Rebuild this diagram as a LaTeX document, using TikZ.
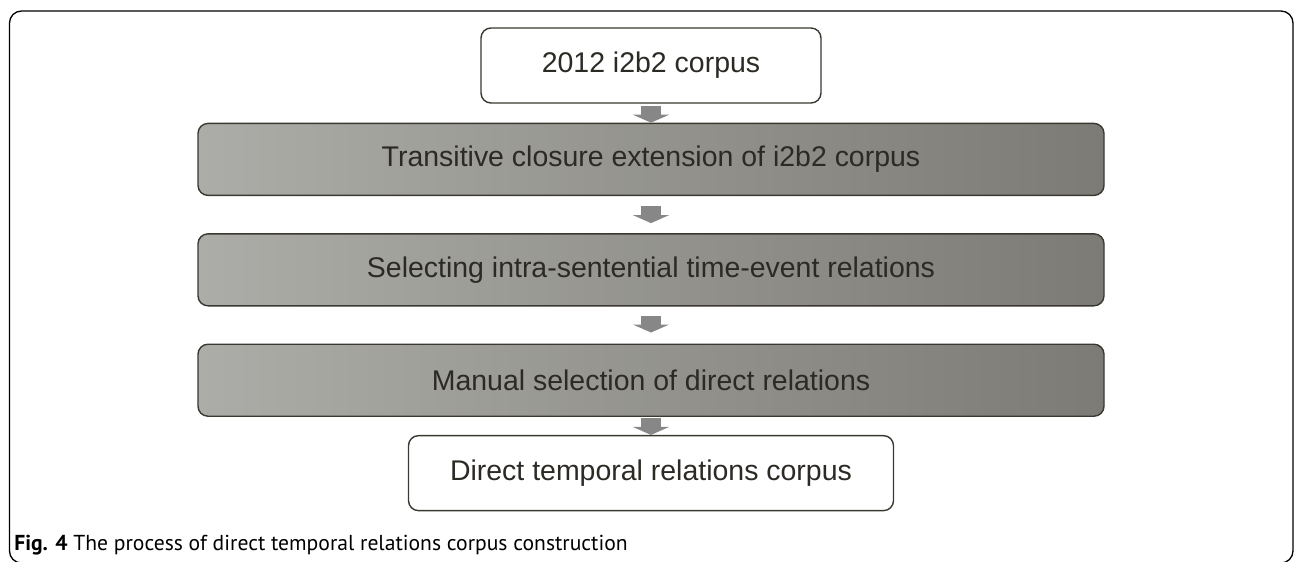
\documentclass[tikz,border=0pt]{standalone}
\usepackage{fontspec}
\setmainfont{Liberation Sans}
\newfontfamily\capfont{PT Sans}
\usepackage{xcolor}
\usepackage{tikz}
\usetikzlibrary{positioning}
\usetikzlibrary{arrows.meta}
\tikzset{>=stealth}
\definecolor{boxlight}{RGB}{172,172,168}
\definecolor{boxmid}{RGB}{163,163,158}
\definecolor{boxdark}{RGB}{124,123,117}
\definecolor{edgecol}{RGB}{58,56,48}
\definecolor{txtcol}{RGB}{44,42,36}
\definecolor{flowcol}{RGB}{135,135,135}
\tikzstyle{corpus} = [draw=edgecol, line width=0.8pt, rounded corners=0.2cm, fill=white,
minimum width=6.8cm, minimum height=1.5cm, text=txtcol, font=\fontsize{16.2}{19}\selectfont]
\tikzstyle{process} = [corpus, left color=boxlight, middle color=boxmid, right color=boxdark,
minimum width=18.12cm, minimum height=1.44cm]
\tikzstyle{flow} = [draw=flowcol, line width=0.4cm, -{Triangle[length=0.16cm, width=0.72cm]}]

\begin{document}
\begin{tikzpicture}
      \useasboundingbox (0,0) rectangle (25.92,-11.22);
      \draw [rounded corners=0.24cm, line width=0.75pt] (0.19,-0.22) rectangle (25.86,-11.26);
      \node [corpus] (src) at (13.02,-1.31) {2012 i2b2 corpus};
      \node [process, below=0.38cm of src] (tc) {Transitive closure extension of i2b2 corpus};
      \node [process, below=0.74cm of tc] (sel) {Selecting intra-sentential time-event relations};
      \node [process, below=0.74cm of sel] (man) {Manual selection of direct relations};
      \node [corpus, minimum width=9.7cm, below=0.36cm of man] (dtr) {Direct temporal relations corpus};
      %% Flows
      \draw [flow, shorten <=0.04cm] (src.south) -- (tc.north);
      \draw [flow, shorten <=0.19cm, shorten >=0.2cm] (tc.south) -- (sel.north);
      \draw [flow, shorten <=0.19cm, shorten >=0.22cm] (sel.south) -- (man.north);
      \draw [flow, shorten <=0.02cm] (man.south) -- (dtr.north);
      %% Caption
      \node [anchor=west, inner sep=0pt, font=\capfont\fontsize{12.3}{14}\selectfont] (cap) at (0.28,-10.9)
        {\textbf{Fig. 4} The process of direct temporal relations corpus construction};
\end{tikzpicture}
\end{document}
